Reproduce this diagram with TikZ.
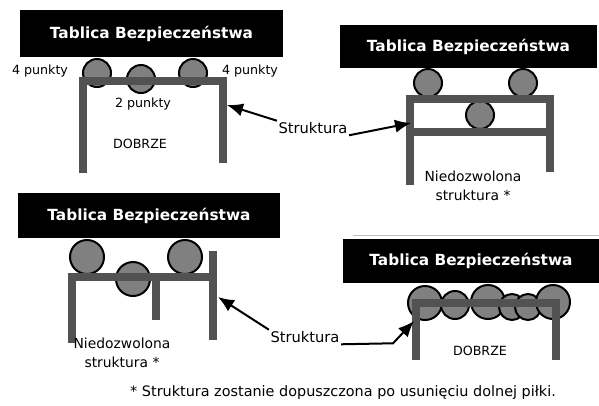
\documentclass[tikz,border=0pt]{standalone}
\usepackage{fontspec}
\setmainfont{DejaVu Sans}
\usetikzlibrary{arrows.meta}
\tikzstyle{board} = [rectangle, fill=black, text=white, inner sep=0pt,
    font=\bfseries\fontsize{11.5}{13}\selectfont]
\tikzstyle{ball} = [circle, draw=black, fill=black!50, line width=1.5pt,
    inner sep=0pt, minimum size=21pt]
\tikzstyle{bigball} = [ball, minimum size=25.5pt]
\tikzstyle{smallball} = [ball, minimum size=19.5pt]
\tikzstyle{bar} = [draw=black!68, line width=6pt]
\tikzstyle{label} = [inner sep=1pt, font=\fontsize{9.5}{11}\selectfont]
\tikzstyle{note} = [inner sep=1pt, align=center, font=\fontsize{10.4}{14}\selectfont]
\tikzstyle{pointer} = [draw, line width=1.5pt, -{Latex[length=12pt,width=10pt]}]

\begin{document}
\begin{tikzpicture}[x=0.75pt, y=-0.75pt]
\useasboundingbox (0,0) rectangle (599,405);
% top left
\node [board, minimum width=197.25pt, minimum height=35.25pt] (board1) at (151.5,33.5) {Tablica Bezpieczeństwa};
\node [ball] (b1a) at (97,73) {};
\node [ball] (b1b) at (141,79) {};
\node [ball] (b1c) at (193,73) {};
\path [bar] (83,173) |- (223,81) -- (223,163);
\node [label] (pts1) at (40,71) {4 punkty};
\node [label] (pts2) at (250,71) {4 punkty};
\node [label] (pts3) at (143,104) {2 punkty};
\node [label] (ok1) at (140,144) {DOBRZE};
% top right
\node [board, minimum width=192.75pt, minimum height=32.25pt] (board2) at (468.5,46.5) {Tablica Bezpieczeństwa};
\node [ball] (b2a) at (428,83) {};
\node [ball] (b2b) at (523,83) {};
\node [ball] (b2c) at (480,115) {};
\path [bar] (409.5,185) |- (549.5,99) -- (549.5,172);
\path [bar] (409.5,131.5) -- (549.5,131.5);
\node [note] (bad2) at (473,185.5) {Niedozwolona\\struktura *};
% bottom left
\node [board, minimum width=196.5pt, minimum height=33.75pt] (board3) at (149,215.5) {Tablica Bezpieczeństwa};
\node [bigball] (b3a) at (87,257) {};
\node [bigball] (b3b) at (133,279) {};
\node [bigball] (b3c) at (185,257) {};
\path [bar] (72,343) |- (213,277);
\path [bar] (155.5,277) -- (155.5,320);
\path [bar] (213,251) -- (213,340);
\node [note] (bad3) at (122,353) {Niedozwolona\\struktura *};
% bottom right
\draw [black!25, line width=0.6pt] (353,235) -- (599,235);
\node [board, minimum width=192pt, minimum height=33pt] (board4) at (471,261) {Tablica Bezpieczeństwa};
\node [bigball] (b4a) at (425,303) {};
\node [ball] (b4b) at (455,305) {};
\node [bigball] (b4c) at (488,302) {};
\node [smallball] (b4d) at (512,307) {};
\node [smallball] (b4e) at (528,307) {};
\node [bigball] (b4f) at (553,302) {};
\path [bar] (415.5,360) |- (556,302.5) -- (556,360);
\node [label] (ok4) at (480,351) {DOBRZE};
% pointers
\node [label, font=\fontsize{11}{13}\selectfont] (struct1) at (313,128) {Struktura};
\node [label, font=\fontsize{11}{13}\selectfont] (struct2) at (305,337) {Struktura};
\coordinate (tip1) at (227,105);
\coordinate (tip2) at (411,123);
\coordinate (tip3) at (218,297);
\coordinate (tip4) at (414,321);
\path [pointer] (struct1.north west) -- (tip1);
\path [pointer] (struct1.south east) -- (tip2);
\path [pointer] (struct2.north west) -- (tip3);
\path [pointer] (struct2.south east) -- ++(52,-1) -- (tip4);
\node [note, font=\fontsize{10.8}{13}\selectfont] (foot) at (343,393) {* Struktura zostanie dopuszczona po usunięciu dolnej piłki.};
\end{tikzpicture}
\end{document}
